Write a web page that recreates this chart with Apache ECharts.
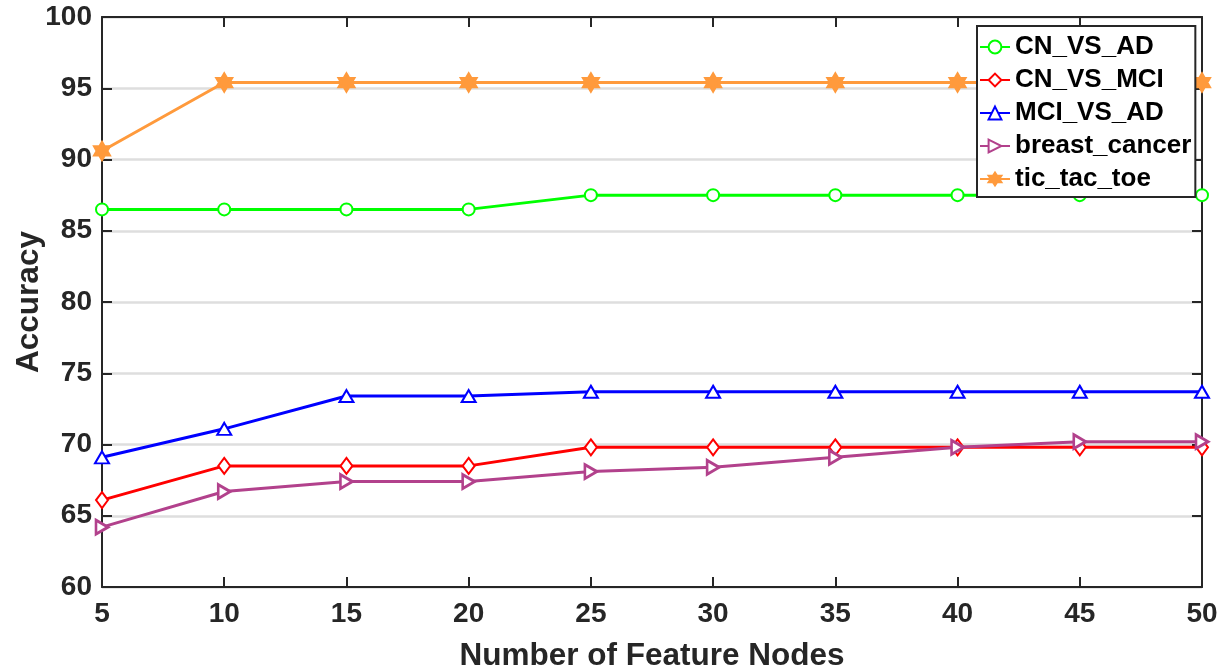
<!DOCTYPE html>
<html>
<head>
<meta charset="utf-8">
<script src="https://cdn.jsdelivr.net/npm/echarts@6/dist/echarts.min.js"></script>
<style>
  html, body { margin: 0; padding: 0; background: #fff; }
  #chart { width: 1230px; height: 672px; }
</style>
</head>
<body>
<div id="chart"></div>
<script>
// Number of feature nodes on the x axis
const featureNodes = [5, 10, 15, 20, 25, 30, 35, 40, 45, 50];

// Accuracy (%) per dataset
const cnVsAd       = [86.5, 86.5, 86.5, 86.5, 87.5, 87.5, 87.5, 87.5, 87.5, 87.5];
const cnVsMci      = [66.1, 68.5, 68.5, 68.5, 69.8, 69.8, 69.8, 69.8, 69.8, 69.8];
const mciVsAd      = [69.1, 71.1, 73.4, 73.4, 73.7, 73.7, 73.7, 73.7, 73.7, 73.7];
const breastCancer = [64.2, 66.7, 67.4, 67.4, 68.1, 68.4, 69.1, 69.8, 70.2, 70.2];
const ticTacToe    = [90.6, 95.4, 95.4, 95.4, 95.4, 95.4, 95.4, 95.4, 95.4, 95.4];

const seriesNames = ['CN_VS_AD', 'CN_VS_MCI', 'MCI_VS_AD', 'breast_cancer', 'tic_tac_toe'];

const yTicks = [60, 65, 70, 75, 80, 85, 90, 95, 100];
const xTicks = [5, 10, 15, 20, 25, 30, 35, 40, 45, 50];

const INK = '#262626';
const FONT = '"Liberation Sans", Arial, Helvetica, sans-serif';

const rightTriangle = 'path://M0,0 L10,5 L0,10 Z';
const hexagram = 'path://M100,0 L128.9,50 L186.6,50 L157.7,100 L186.6,150 L128.9,150 L100,200 L71.1,150 L13.4,150 L42.3,100 L13.4,50 L71.1,50 Z';

function pairs(ys) {
  return featureNodes.map((x, i) => [x, ys[i]]);
}

function lineSeries(name, ys, color, symbol, size, hollow) {
  return {
    name: name,
    type: 'line',
    data: pairs(ys),
    symbol: symbol,
    symbolSize: size,
    symbolKeepAspect: true,
    showAllSymbol: true,
    lineStyle: { color: color, width: 3 },
    itemStyle: hollow
      ? { color: '#fff', borderColor: color, borderWidth: 2.8 }
      : { color: color, borderColor: color, borderWidth: 2.8 },
    color: color,
    emphasis: { disabled: true },
    animation: false
  };
}

const chart = echarts.init(document.getElementById('chart'), null, { renderer: 'canvas' });

const tickCommon = { show: true, inside: true, length: 10, lineStyle: { color: INK, width: 2 } };
const lineCommon = { show: true, lineStyle: { color: INK, width: 2 } };

chart.setOption({
  backgroundColor: '#fff',
  animation: false,
  grid: { left: 102, right: 28, top: 17, bottom: 85, containLabel: false, outerBoundsMode: 'none' },
  legend: {
    data: seriesNames,
    orient: 'vertical',
    left: 977,
    top: 26,
    padding: [8, 4, 5, 2],
    itemGap: 7,
    itemWidth: 30,
    itemHeight: 16,
    backgroundColor: '#fff',
    borderColor: INK,
    borderWidth: 2,
    selectedMode: false,
    textStyle: { color: '#000', fontFamily: FONT, fontWeight: 'bold', fontSize: 26, lineHeight: 26 }
  },
  xAxis: [
    {
      type: 'value', min: xTicks[0], max: xTicks[xTicks.length - 1], interval: 5,
      position: 'bottom',
      name: 'Number of Feature Nodes', nameLocation: 'middle', nameGap: 53,
      nameMoveOverlap: false,
      nameTextStyle: { color: INK, fontFamily: FONT, fontWeight: 'bold', fontSize: 31.5 },
      axisLine: lineCommon, axisTick: tickCommon,
      axisLabel: { color: INK, fontFamily: FONT, fontWeight: 'bold', fontSize: 28, margin: 13 },
      splitLine: { show: false }
    },
    {
      type: 'value', min: xTicks[0], max: xTicks[xTicks.length - 1], interval: 5,
      position: 'top',
      axisLine: lineCommon, axisTick: tickCommon,
      axisLabel: { show: false }, splitLine: { show: false }
    }
  ],
  yAxis: [
    {
      type: 'value', min: yTicks[0], max: yTicks[yTicks.length - 1], interval: 5,
      position: 'left',
      name: 'Accuracy', nameLocation: 'middle', nameGap: 57,
      nameMoveOverlap: false,
      nameTextStyle: { color: INK, fontFamily: FONT, fontWeight: 'bold', fontSize: 31.5 },
      axisLine: lineCommon, axisTick: tickCommon,
      axisLabel: { color: INK, fontFamily: FONT, fontWeight: 'bold', fontSize: 28, margin: 10 },
      splitLine: { show: true, lineStyle: { color: '#dedede', width: 2.5 } }
    },
    {
      type: 'value', min: yTicks[0], max: yTicks[yTicks.length - 1], interval: 5,
      position: 'right',
      axisLine: lineCommon, axisTick: tickCommon,
      axisLabel: { show: false }, splitLine: { show: false }
    }
  ],
  series: [
    lineSeries(seriesNames[0], cnVsAd, '#00ff00', 'emptyCircle', 12, false),
    lineSeries(seriesNames[1], cnVsMci, '#ff0000', 'emptyDiamond', [12, 16], false),
    lineSeries(seriesNames[2], mciVsAd, '#0000ff', 'emptyTriangle', [14, 12], false),
    lineSeries(seriesNames[3], breastCancer, '#b2418c', rightTriangle, [12, 14], true),
    lineSeries(seriesNames[4], ticTacToe, '#ff9a3c', hexagram, 17, false)
  ]
});
</script>
</body>
</html>
